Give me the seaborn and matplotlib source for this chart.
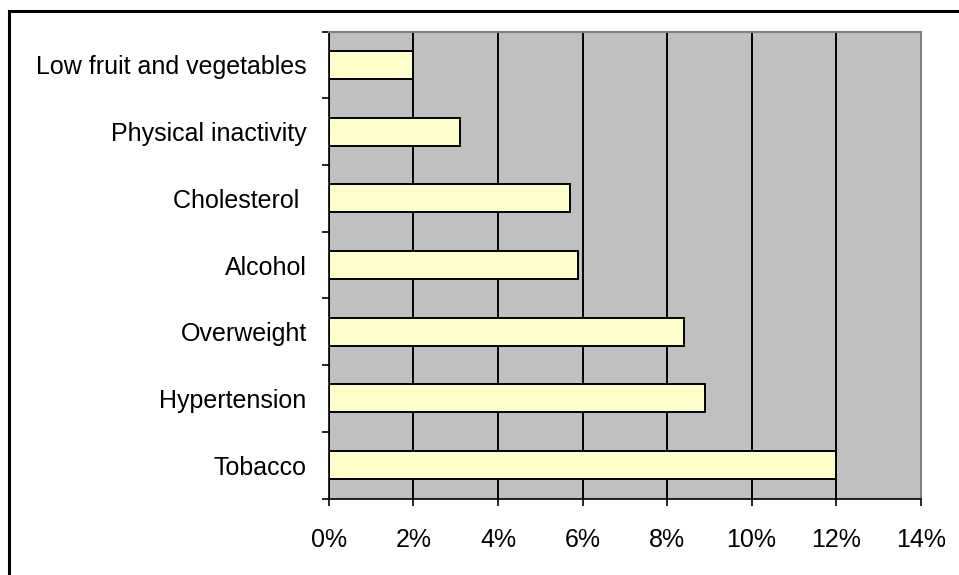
import matplotlib
matplotlib.use("Agg")
import matplotlib.pyplot as plt
import matplotlib.ticker as mticker
from matplotlib.patches import Rectangle
import pandas as pd
import seaborn as sns
import numpy as np

# data (percent)
risk_factors = ["Low fruit and vegetables", "Physical inactivity", "Cholesterol ",
                "Alcohol", "Overweight", "Hypertension", "Tobacco"]
percent = [2.0, 3.1, 5.7, 5.9, 8.4, 8.9, 12.0]
x_ticks = [0, 2, 4, 6, 8, 10, 12, 14]


def main():
    sns.set_theme(style="white")
    plt.rcParams["font.family"] = ["Liberation Sans", "DejaVu Sans"]

    df = pd.DataFrame({"Risk": risk_factors, "Percent": percent})

    fig = plt.figure(figsize=(9.59, 5.75), dpi=100)
    ax = fig.add_axes([0.343, 0.133, 0.617, 0.812])

    sns.barplot(data=df, x="Percent", y="Risk", orient="h", color="#FFFFCC",
                edgecolor="black", linewidth=1.4, width=0.42, saturation=1, ax=ax)

    ax.set_facecolor("#C0C0C0")
    ax.set_xlim(0, 14)
    ax.set_ylim(len(risk_factors) - 0.5, -0.5)
    ax.set_xticks(x_ticks)
    ax.xaxis.set_major_formatter(mticker.FuncFormatter(lambda v, p: f"{v:.0f}%"))
    ax.grid(axis="x", color="black", linewidth=1.4)
    ax.set_axisbelow(True)

    # tick marks between categories on the y axis
    ax.set_yticks(np.arange(-0.5, len(risk_factors), 1), minor=True)
    ax.tick_params(axis="y", which="major", length=0, pad=16, labelsize=18,
                   labelcolor="black")
    ax.tick_params(axis="y", which="minor", length=5, width=1.2, color="black",
                   direction="out", left=True)
    ax.tick_params(axis="x", which="major", length=5, width=1.2, color="black",
                   direction="out", bottom=True, pad=16, labelsize=18,
                   labelcolor="black")

    ax.set_xlabel("")
    ax.set_ylabel("")

    for side in ["left", "bottom"]:
        ax.spines[side].set_color("black")
        ax.spines[side].set_linewidth(1.2)
    for side in ["top", "right"]:
        ax.spines[side].set_visible(True)
        ax.spines[side].set_color("#808080")
        ax.spines[side].set_linewidth(1.5)

    # outer chart frame (only left and top edges visible)
    fig.patches.append(Rectangle((9 / 959, -0.1), 1.2, 1 - 11 / 575 + 0.1,
                                 transform=fig.transFigure, fill=False,
                                 edgecolor="black", linewidth=2.2))

    fig.savefig("out.png", dpi=100)


if __name__ == "__main__":
    main()
